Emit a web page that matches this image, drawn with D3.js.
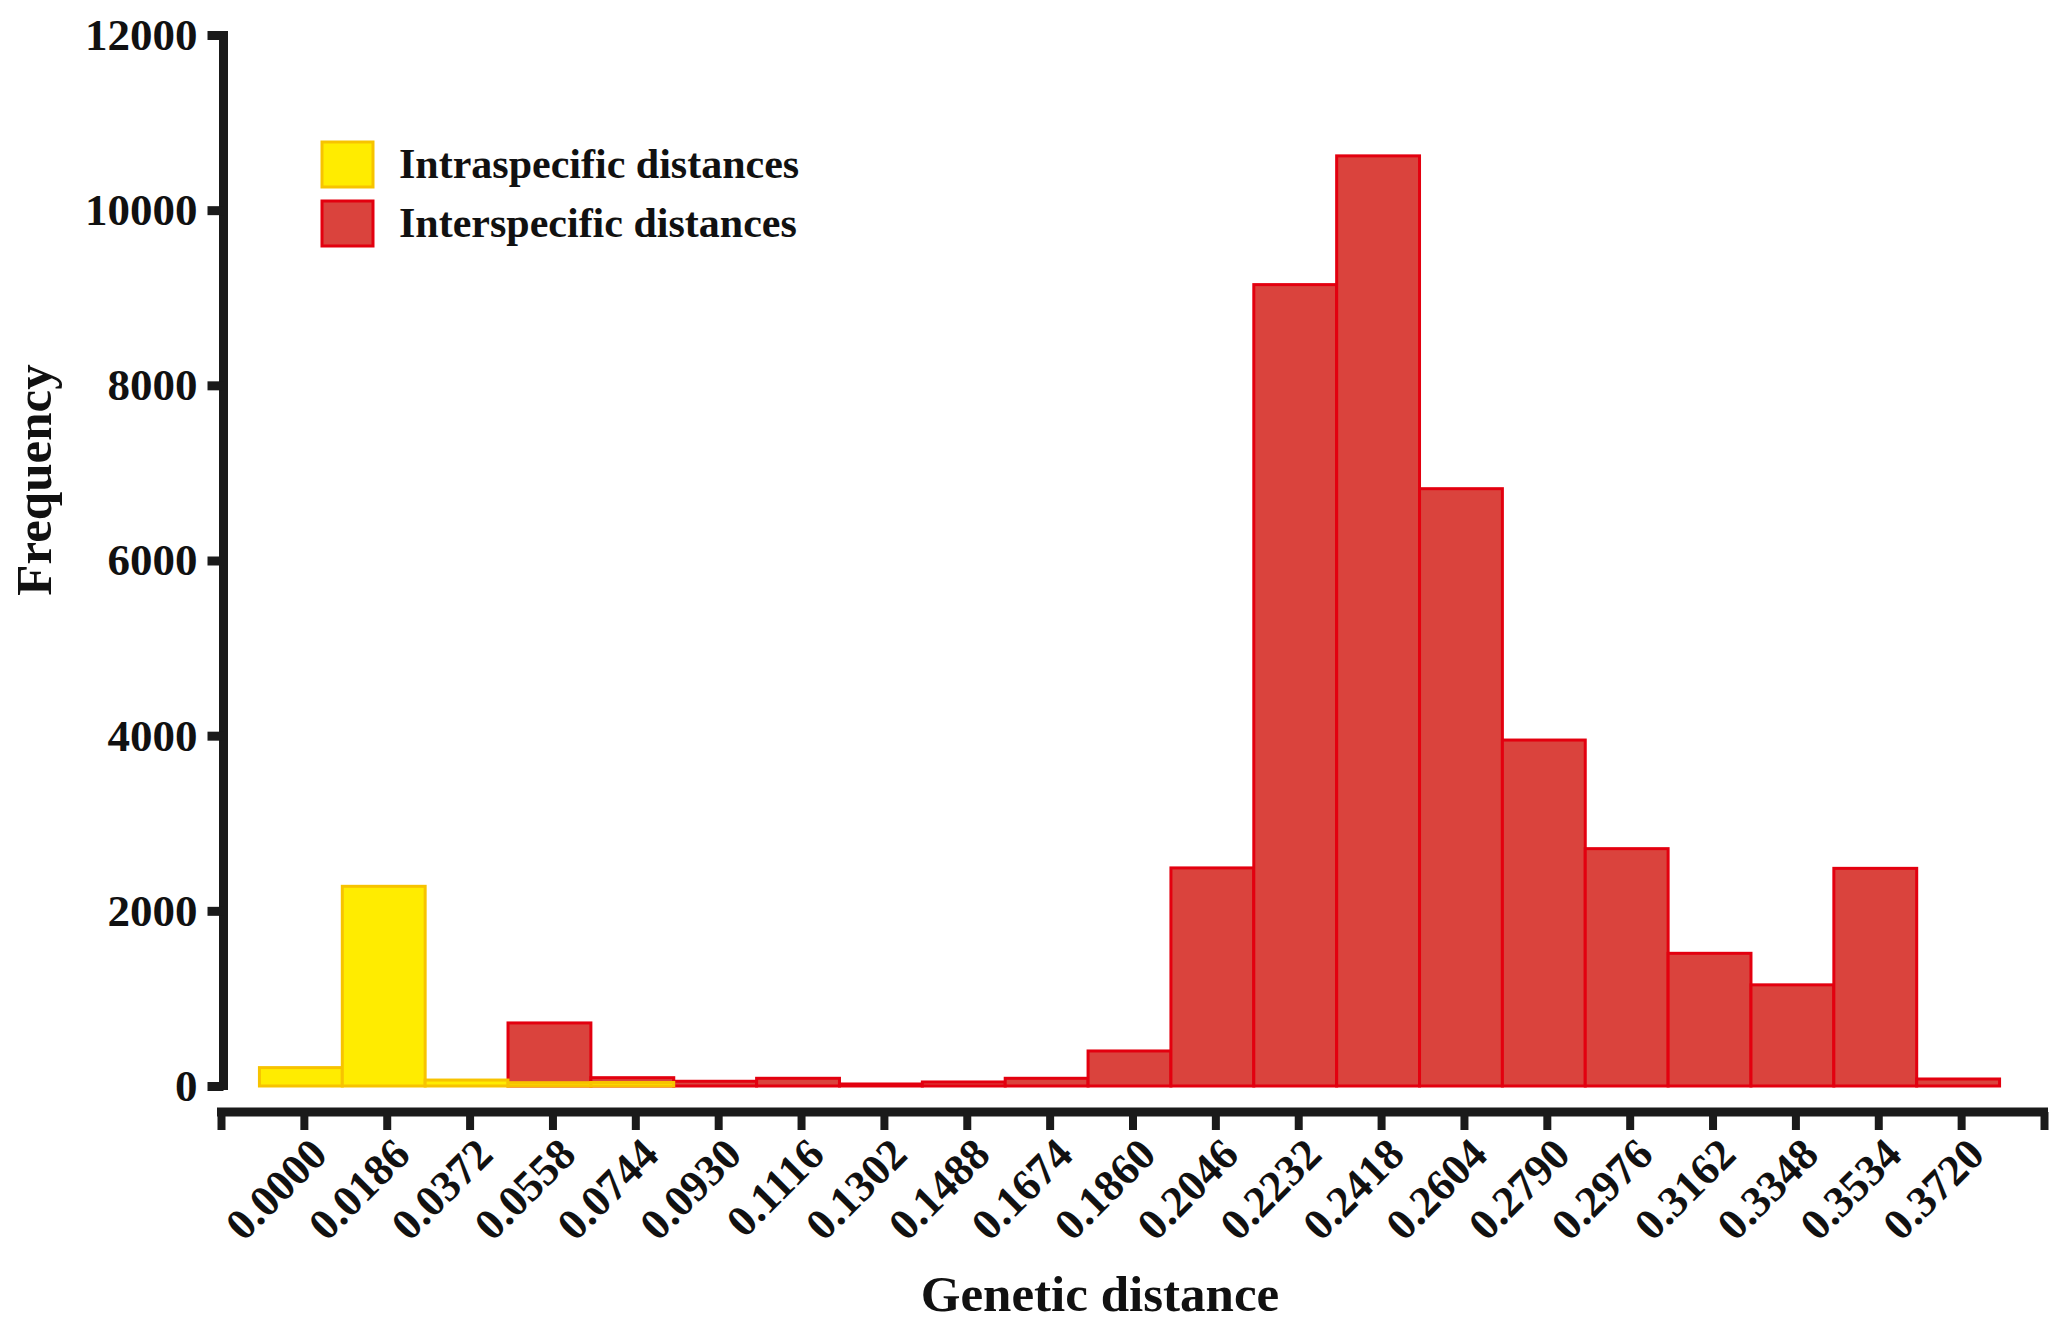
<!DOCTYPE html>
<html>
<head>
<meta charset="utf-8">
<script src="https://cdn.jsdelivr.net/npm/d3@7"></script>
<style>
  body { margin: 0; background: #fff; }
  svg text { font-family: "Liberation Serif", "Times New Roman", serif; font-weight: bold; fill: #111; }
</style>
</head>
<body>
<div id="chart"></div>
<script>
// histogram bins (bin centres shown as tick labels)
var binLabels = ["0.0000", "0.0186", "0.0372", "0.0558", "0.0744", "0.0930", "0.1116",
  "0.1302", "0.1488", "0.1674", "0.1860", "0.2046", "0.2232", "0.2418", "0.2604",
  "0.2790", "0.2976", "0.3162", "0.3348", "0.3534", "0.3720"];

// frequencies
var intraCounts = [210, 2280, 68, 38, 40, 0, 0, 0, 0, 0, 0, 0, 0, 0, 0, 0, 0, 0, 0, 0, 0];
var interCounts = [0, 0, 0, 720, 95, 54, 88, 23, 46, 88, 400, 2490, 9150, 10620, 6820,
  3950, 2710, 1515, 1155, 2485, 80];

var yTicks = [0, 2000, 4000, 6000, 8000, 10000, 12000];

var seriesNames = ["Intraspecific distances", "Interspecific distances"];

var width = 2067, height = 1329;

var colors = {
  intraFill: "#ffec00", intraStroke: "#f7c300",
  interFill: "#da433d", interStroke: "#e3000f",
  axis: "#1a1a1a"
};

var svg = d3.select("#chart").append("svg")
  .attr("width", width)
  .attr("height", height);

// scales: x runs on bin index, one extra slot on each side for the end ticks
var x = d3.scaleLinear().domain([-1, binLabels.length]).range([221, 2044]);
var y = d3.scaleLinear().domain([0, 12000]).range([1086, 35]);
var barShift = -3;

function drawBars(counts, fill, stroke, cls) {
  var data = counts.map(function(v, i) { return { i: i, v: v }; })
    .filter(function(d) { return d.v > 0; });
  svg.append("g").attr("class", cls)
    .selectAll("rect")
    .data(data)
    .enter().append("rect")
    .attr("x", function(d) { return x(d.i - 0.5) + barShift; })
    .attr("width", function(d) { return x(d.i + 0.5) - x(d.i - 0.5); })
    .attr("y", function(d) { return y(d.v); })
    .attr("height", function(d) { return y(0) - y(d.v); })
    .style("fill", fill)
    .style("stroke", stroke)
    .style("stroke-width", 3);
}

// red first, yellow drawn over it
drawBars(interCounts, colors.interFill, colors.interStroke, "inter");
drawBars(intraCounts, colors.intraFill, colors.intraStroke, "intra");

// Y axis
var yAxis = svg.append("g")
  .attr("transform", "translate(223.5,0)")
  .call(d3.axisLeft(y).tickValues(yTicks).tickSize(16).tickSizeOuter(0).tickPadding(10)
    .tickFormat(d3.format("d")));
yAxis.select(".domain")
  .attr("d", "M0," + (y(0) + 4) + "V" + (y(12000) - 4))
  .style("stroke", colors.axis)
  .style("stroke-width", 9);
yAxis.selectAll(".tick line")
  .style("stroke", colors.axis)
  .style("stroke-width", 9);
yAxis.selectAll(".tick text")
  .style("font-size", "45px");

// X axis, offset below the plot
var xTickValues = d3.range(-1, binLabels.length + 1);
var xAxis = svg.append("g")
  .attr("transform", "translate(0,1112)")
  .call(d3.axisBottom(x).tickValues(xTickValues).tickSize(18).tickSizeOuter(0)
    .tickFormat(function(d) { return binLabels[d] || ""; }));
xAxis.select(".domain")
  .attr("d", "M" + (x(-1) - 4) + ",0H" + (x(binLabels.length) + 4))
  .style("stroke", colors.axis)
  .style("stroke-width", 9);
xAxis.selectAll(".tick line")
  .style("stroke", colors.axis)
  .style("stroke-width", 8);
xAxis.selectAll(".tick text")
  .attr("x", 0)
  .attr("y", 0)
  .attr("dy", 0)
  .attr("transform", "translate(25,45) rotate(-45)")
  .style("text-anchor", "end")
  .style("font-size", "44px");

// axis titles
svg.append("text")
  .attr("transform", "translate(51,480) rotate(-90)")
  .attr("text-anchor", "middle")
  .style("font-size", "51px")
  .text("Frequency");

svg.append("text")
  .attr("x", 1100)
  .attr("y", 1311)
  .attr("text-anchor", "middle")
  .style("font-size", "51px")
  .text("Genetic distance");

// legend
var legendData = [
  { name: seriesNames[0], fill: colors.intraFill, stroke: colors.intraStroke },
  { name: seriesNames[1], fill: colors.interFill, stroke: colors.interStroke }
];
var legend = svg.append("g").attr("transform", "translate(322,142)");
var item = legend.selectAll(".item")
  .data(legendData)
  .enter().append("g")
  .attr("class", "item")
  .attr("transform", function(d, i) { return "translate(0," + i * 59 + ")"; });
item.append("rect")
  .attr("width", 51)
  .attr("height", 45)
  .style("fill", function(d) { return d.fill; })
  .style("stroke", function(d) { return d.stroke; })
  .style("stroke-width", 3);
item.append("text")
  .attr("x", 77)
  .attr("y", 36)
  .style("font-size", "42px")
  .text(function(d) { return d.name; });
</script>
</body>
</html>
